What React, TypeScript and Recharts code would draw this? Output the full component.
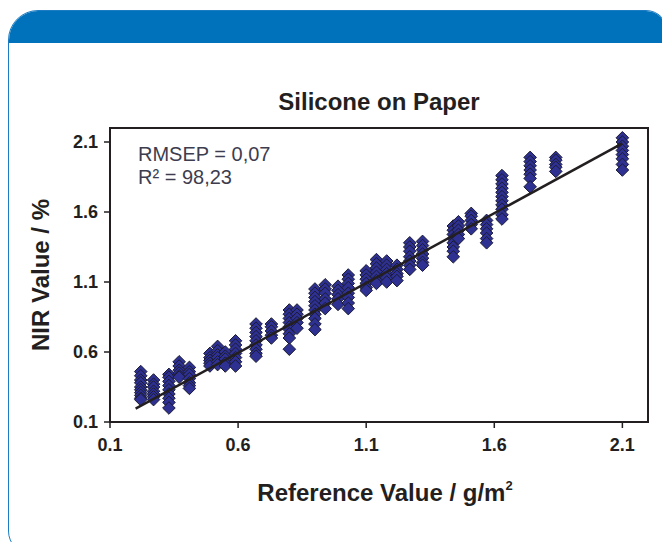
import {
  ScatterChart,
  Scatter,
  XAxis,
  YAxis,
  ReferenceArea,
  Label,
} from 'recharts'

// reference values (g/m²) of each sample group
const refValues = [
  0.22, 0.27, 0.33, 0.37, 0.41, 0.49, 0.52, 0.55, 0.59, 0.67, 0.73, 0.8, 0.83, 0.9, 0.94, 0.99,
  1.03, 1.1, 1.14, 1.18, 1.22, 1.27, 1.32, 1.44, 1.46, 1.51, 1.57, 1.63, 1.74, 1.84, 2.1,
]

// NIR predictions (%) for each group, same order as refValues
const nirValues = [
  [0.46, 0.43, 0.4, 0.38, 0.35, 0.33, 0.31, 0.29, 0.27, 0.26],
  [0.4, 0.37, 0.35, 0.32, 0.3, 0.28, 0.26],
  [0.44, 0.42, 0.39, 0.36, 0.33, 0.3, 0.27, 0.24, 0.2],
  [0.53, 0.5, 0.47, 0.45, 0.43, 0.42],
  [0.49, 0.46, 0.44, 0.41, 0.38, 0.36, 0.34],
  [0.59, 0.56, 0.54, 0.52, 0.5],
  [0.64, 0.61, 0.58, 0.56, 0.53, 0.51],
  [0.6, 0.57, 0.55, 0.52, 0.5],
  [0.68, 0.65, 0.62, 0.59, 0.56, 0.53, 0.5],
  [0.8, 0.77, 0.74, 0.71, 0.68, 0.65, 0.62, 0.59, 0.57],
  [0.8, 0.78, 0.75, 0.72, 0.7],
  [0.9, 0.87, 0.84, 0.81, 0.78, 0.76, 0.73, 0.7, 0.62],
  [0.9, 0.87, 0.84, 0.81, 0.77],
  [1.05, 1.02, 0.99, 0.96, 0.93, 0.9, 0.87, 0.84, 0.8, 0.76],
  [1.08, 1.05, 1.02, 0.98, 0.95, 0.91],
  [1.07, 1.04, 1.01, 0.98, 0.94],
  [1.15, 1.12, 1.09, 1.06, 1.02, 0.99, 0.95, 0.91],
  [1.18, 1.15, 1.12, 1.09, 1.06, 1.04],
  [1.26, 1.23, 1.2, 1.17, 1.14, 1.11, 1.09],
  [1.25, 1.22, 1.19, 1.16, 1.13, 1.1],
  [1.22, 1.19, 1.16, 1.14, 1.11],
  [1.38, 1.35, 1.32, 1.28, 1.25, 1.22, 1.19],
  [1.39, 1.36, 1.33, 1.3, 1.27, 1.24, 1.22],
  [1.5, 1.47, 1.44, 1.41, 1.38, 1.35, 1.32, 1.28],
  [1.53, 1.5, 1.47, 1.44, 1.41],
  [1.59, 1.57, 1.54, 1.51, 1.48],
  [1.54, 1.51, 1.48, 1.45, 1.41, 1.38],
  [1.86, 1.83, 1.8, 1.77, 1.74, 1.71, 1.68, 1.65, 1.62, 1.58, 1.55],
  [1.99, 1.96, 1.93, 1.9, 1.87, 1.84, 1.78],
  [1.99, 1.97, 1.94, 1.92, 1.89],
  [2.13, 2.1, 2.07, 2.04, 2.01, 1.98, 1.94, 1.9],
]

// regression line end points
const fitX = [0.2, 2.1]
const fitY = [0.195, 2.09]

const axisTicks = [0.1, 0.6, 1.1, 1.6, 2.1]

const points = refValues.flatMap((x, i) => nirValues[i].map((y) => ({ x, y })))
const fitLine = fitX.map((x, i) => ({ x, y: fitY[i] }))

const FONT = '"Liberation Sans", Arial, sans-serif'
const INK = '#231f20'

function Diamond({ cx, cy }: { cx?: number; cy?: number }) {
  if (cx == null || cy == null) return <g />
  const r = 6.3
  return (
    <polygon
      points={`${cx},${cy - r} ${cx + r},${cy} ${cx},${cy + r} ${cx - r},${cy}`}
      fill="#2e3192"
      stroke="#1b1b33"
      strokeWidth={1}
    />
  )
}

export default function App() {
  return (
    <div
      style={{
        position: 'absolute',
        left: 0,
        top: 0,
        width: 662,
        height: 542,
        overflow: 'hidden',
        background: '#fff',
        fontFamily: FONT,
      }}
    >
      {/* panel frame */}
      <div
        style={{
          position: 'absolute',
          left: 8,
          top: 10,
          width: 660,
          height: 545,
          border: '1px solid #1b7cc4',
          borderRadius: '30px 22px 0 24px',
          boxSizing: 'border-box',
          overflow: 'hidden',
        }}
      >
        <div style={{ height: 32, background: '#0071bb' }} />
      </div>

      <div
        style={{
          position: 'absolute',
          left: 110,
          width: 538,
          top: 88,
          textAlign: 'center',
          fontWeight: 'bold',
          fontSize: 24,
          lineHeight: '28px',
          color: INK,
        }}
      >
        Silicone on Paper
      </div>

      <div
        style={{
          position: 'absolute',
          left: 138,
          top: 143,
          fontSize: 20,
          lineHeight: '23px',
          color: '#3d3d4f',
        }}
      >
        <div>RMSEP = 0,07</div>
        <div>R² = 98,23</div>
      </div>

      <div style={{ position: 'absolute', left: 0, top: 0 }}>
        <ScatterChart
          width={662}
          height={542}
          margin={{ top: 128, right: 14, bottom: 80, left: 20 }}
        >
          <XAxis
            type="number"
            dataKey="x"
            domain={[0.1, 2.2]}
            ticks={axisTicks}
            allowDataOverflow
            axisLine={false}
            tickLine={{ stroke: INK, strokeWidth: 1.5 }}
            tickSize={6}
            tickMargin={10}
            height={40}
            tick={{ fill: INK, fontSize: 18, fontWeight: 'bold', fontFamily: FONT }}
          >
            <Label
              content={() => (
                <text
                  x={385}
                  y={501}
                  textAnchor="middle"
                  fill={INK}
                  fontSize={24}
                  fontWeight="bold"
                  fontFamily={FONT}
                >
                  Reference Value / g/m
                  <tspan fontSize={13} dy={-11}>
                    2
                  </tspan>
                </text>
              )}
            />
          </XAxis>
          <YAxis
            type="number"
            dataKey="y"
            domain={[0.1, 2.2]}
            ticks={axisTicks}
            allowDataOverflow
            axisLine={false}
            tickLine={{ stroke: INK, strokeWidth: 1.5 }}
            tickSize={6}
            tickMargin={6}
            width={90}
            tick={{ fill: INK, fontSize: 18, fontWeight: 'bold', fontFamily: FONT }}
          >
            <Label
              value="NIR Value / %"
              angle={-90}
              position="insideLeft"
              offset={20}
              style={{
                textAnchor: 'middle',
                fill: INK,
                fontSize: 24,
                fontWeight: 'bold',
                fontFamily: FONT,
              }}
            />
          </YAxis>
          <ReferenceArea
            x1={0.1}
            x2={2.2}
            y1={0.1}
            y2={2.2}
            fill="none"
            stroke={INK}
            strokeWidth={2}
          />
          <Scatter data={points} shape={<Diamond />} isAnimationActive={false} />
          <Scatter
            data={fitLine}
            line={{ stroke: INK, strokeWidth: 2.5 }}
            shape={() => <g />}
            isAnimationActive={false}
          />
        </ScatterChart>
      </div>
    </div>
  )
}
